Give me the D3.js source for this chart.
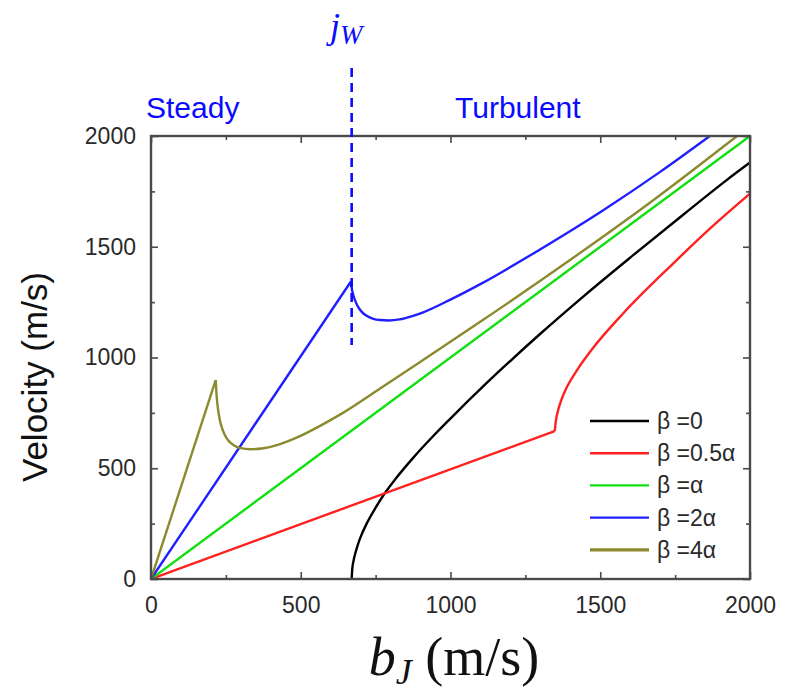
<!DOCTYPE html>
<html>
<head>
<meta charset="utf-8">
<script src="https://cdn.jsdelivr.net/npm/d3@7"></script>
<style>
  body { margin: 0; background: #fff; }
  svg { display: block; }
</style>
</head>
<body>
<div id="plots"></div>
<script>
// chart size
var width = 785;
var height = 695;

// transition velocity j_W (m/s)
var jW = 670;

// b_J (m/s) and velocity (m/s) for each beta
var bJ_b0 = [670, 672, 676, 680, 690, 700, 720, 750, 776, 820, 876, 940, 998, 1121, 1299, 1450, 1610, 1780, 1922, 2000];
var v_b0  = [0, 45, 80, 105, 152, 190, 250, 322, 378, 458, 548, 642, 722, 885, 1106, 1283, 1462, 1648, 1801, 1880];

var bJ_b05 = [0, 1348, 1352, 1360, 1372, 1390, 1421, 1477, 1577, 1744, 1877, 2000];
var v_b05  = [0, 668, 715, 765, 815, 870, 940, 1045, 1200, 1425, 1595, 1740];

var bJ_b1 = [0, 2000];
var v_b1  = [0, 2000];

var bJ_b2 = [0, 667, 672, 680, 690, 703, 720, 740, 765, 795, 830, 870, 909, 998, 1098, 1299, 1510, 1700, 1866];
var v_b2  = [0, 1342, 1300, 1262, 1232, 1207, 1188, 1176, 1169, 1167, 1172, 1186, 1204, 1260, 1330, 1488, 1665, 1838, 2000];

var bJ_b4 = [0, 216, 219, 223, 228, 235, 245, 258, 275, 300, 331, 370, 420, 486, 560, 631, 765, 932, 1098, 1399, 1677, 1957];
var v_b4  = [0, 898, 830, 775, 730, 690, 655, 625, 605, 591, 586, 589, 604, 638, 688, 742, 860, 1010, 1160, 1440, 1710, 2000];

// legend
var seriesNames  = ["\u03b2 =0", "\u03b2 =0.5\u03b1", "\u03b2 =\u03b1", "\u03b2 =2\u03b1", "\u03b2 =4\u03b1"];
var seriesColors = ["#000000", "#ff2020", "#10e010", "#2020ff", "#8c8a2e"];
// index where the steady (straight) part ends
var kinkIndex = [0, 1, 1, 1, 1];

var xTicks = [0, 500, 1000, 1500, 2000];
var yTicks = [0, 500, 1000, 1500, 2000];
var minorTicks = [250, 750, 1250, 1750];

var series = [
  {x: bJ_b0, y: v_b0},
  {x: bJ_b05, y: v_b05},
  {x: bJ_b1, y: v_b1},
  {x: bJ_b2, y: v_b2},
  {x: bJ_b4, y: v_b4}
];

var plot = {left: 151, right: 750, top: 136, bottom: 579};
var axisColor = "#4a4a4a";
var sans = "'Liberation Sans', Arial, Helvetica, sans-serif";
var serif = "'Liberation Serif', 'Times New Roman', serif";

var x = d3.scaleLinear().domain([0, 2000]).range([plot.left, plot.right]);
var y = d3.scaleLinear().domain([0, 2000]).range([plot.bottom, plot.top]);

var svg = d3.select("#plots")
  .append("svg")
  .attr("width", width)
  .attr("height", height);

// clip to plot box
svg.append("clipPath").attr("id", "clip")
  .append("rect")
  .attr("x", plot.left).attr("y", plot.top - 1)
  .attr("width", plot.right - plot.left + 1)
  .attr("height", plot.bottom - plot.top + 1);

// curves
var lineStraight = d3.line().x(function(d) { return x(d[0]); }).y(function(d) { return y(d[1]); });
var lineSmooth = d3.line().x(function(d) { return x(d[0]); }).y(function(d) { return y(d[1]); })
  .curve(d3.curveMonotoneX);

var curves = svg.append("g").attr("clip-path", "url(#clip)");
series.forEach(function(s, i) {
  var pts = s.x.map(function(v, j) { return [v, s.y[j]]; });
  var k = kinkIndex[i];
  if (k > 0) {
    curves.append("path")
      .attr("d", lineStraight(pts.slice(0, k + 1)))
      .attr("fill", "none").attr("stroke", seriesColors[i])
      .attr("stroke-width", 2.4).attr("stroke-linejoin", "round");
  }
  if (pts.length - k > 1) {
    curves.append("path")
      .attr("d", (pts.length - k > 2 ? lineSmooth : lineStraight)(pts.slice(k)))
      .attr("fill", "none").attr("stroke", seriesColors[i])
      .attr("stroke-width", 2.4).attr("stroke-linejoin", "round");
  }
});

// axes, ticks inward on all four sides
function styleAxis(g) {
  g.select(".domain").remove();
  g.selectAll(".tick line").attr("stroke", axisColor).attr("stroke-width", 1.6);
  g.selectAll(".tick text").attr("fill", "#2a2a2a").attr("font-family", sans).attr("font-size", 23);
}

svg.append("g").attr("transform", "translate(0," + plot.bottom + ")")
  .call(d3.axisBottom(x).tickValues(xTicks).tickSize(-7).tickPadding(18).tickFormat(d3.format("d")))
  .call(styleAxis);
svg.append("g").attr("transform", "translate(0," + plot.bottom + ")")
  .call(d3.axisBottom(x).tickValues(minorTicks).tickSize(-4).tickFormat(""))
  .call(styleAxis);
svg.append("g").attr("transform", "translate(0," + plot.top + ")")
  .call(d3.axisTop(x).tickValues(xTicks).tickSize(-7).tickFormat(""))
  .call(styleAxis);
svg.append("g").attr("transform", "translate(0," + plot.top + ")")
  .call(d3.axisTop(x).tickValues(minorTicks).tickSize(-4).tickFormat(""))
  .call(styleAxis);

svg.append("g").attr("transform", "translate(" + plot.left + ",0)")
  .call(d3.axisLeft(y).tickValues(yTicks).tickSize(-7).tickPadding(15).tickFormat(d3.format("d")))
  .call(styleAxis);
svg.append("g").attr("transform", "translate(" + plot.left + ",0)")
  .call(d3.axisLeft(y).tickValues(minorTicks).tickSize(-4).tickFormat(""))
  .call(styleAxis);
svg.append("g").attr("transform", "translate(" + plot.right + ",0)")
  .call(d3.axisRight(y).tickValues(yTicks).tickSize(-7).tickFormat(""))
  .call(styleAxis);
svg.append("g").attr("transform", "translate(" + plot.right + ",0)")
  .call(d3.axisRight(y).tickValues(minorTicks).tickSize(-4).tickFormat(""))
  .call(styleAxis);

// frame
svg.append("rect")
  .attr("x", plot.left).attr("y", plot.top)
  .attr("width", plot.right - plot.left)
  .attr("height", plot.bottom - plot.top)
  .attr("fill", "none").attr("stroke", axisColor).attr("stroke-width", 2.4);

// legend
var legend = svg.append("g");
seriesNames.forEach(function(name, i) {
  var ly = 421 + i * 32.2;
  legend.append("line")
    .attr("x1", 590).attr("x2", 649)
    .attr("y1", ly).attr("y2", ly)
    .attr("stroke", seriesColors[i]).attr("stroke-width", i == 4 ? 3.2 : 2.4);
  legend.append("text")
    .attr("x", 657).attr("y", ly + 8)
    .attr("font-family", sans).attr("font-size", 23)
    .attr("fill", "#2a2a2a")
    .text(name);
});

// j_W marker
svg.append("line")
  .attr("x1", x(jW)).attr("x2", x(jW))
  .attr("y1", 68).attr("y2", 345)
  .attr("stroke", "#0a0aff").attr("stroke-width", 2.6)
  .attr("stroke-dasharray", "9,6");

var jLabel = svg.append("text")
  .attr("x", 330).attr("y", 38)
  .attr("font-family", serif).attr("font-size", 36)
  .attr("font-style", "italic").attr("fill", "#0a0aff");
jLabel.append("tspan").text("j");
jLabel.append("tspan").attr("dy", 6).attr("font-size", 27).text("W");

// regime labels
svg.append("text").attr("x", 146).attr("y", 118)
  .attr("font-family", sans).attr("font-size", 30).attr("fill", "#0a0aff")
  .text("Steady");
svg.append("text").attr("x", 455).attr("y", 118)
  .attr("font-family", sans).attr("font-size", 30).attr("fill", "#0a0aff")
  .text("Turbulent");

// axis titles
svg.append("text")
  .attr("transform", "translate(47," + 377 + ") rotate(-90)")
  .attr("text-anchor", "middle")
  .attr("font-family", sans).attr("font-size", 35).attr("fill", "#111")
  .text("Velocity (m/s)");

var xLabel = svg.append("text")
  .attr("x", 454).attr("y", 675)
  .attr("text-anchor", "middle")
  .attr("font-family", serif).attr("font-size", 54).attr("fill", "#111");
xLabel.append("tspan").attr("font-style", "italic").text("b");
xLabel.append("tspan").attr("font-style", "italic").attr("font-size", 36).attr("dy", 9).text("J");
xLabel.append("tspan").attr("dy", -9).text(" (m/s)");
</script>
</body>
</html>
